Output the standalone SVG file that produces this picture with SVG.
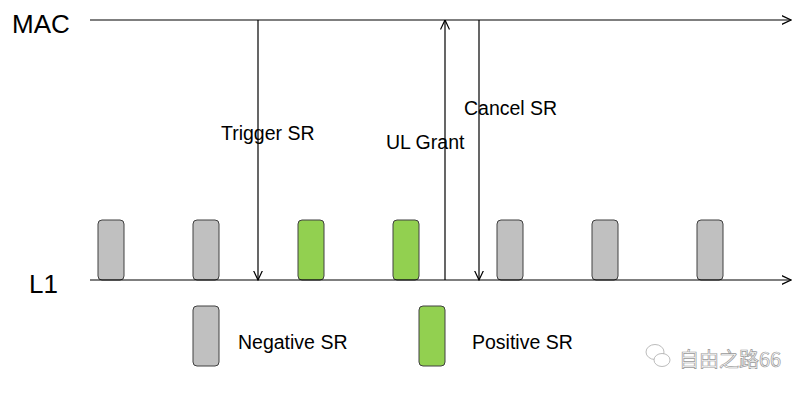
<svg xmlns="http://www.w3.org/2000/svg" width="804" height="394" viewBox="0 0 804 394">
<style>
text{font-family:"Liberation Sans",Arial,sans-serif;fill:#000}
.lbl{font-size:19.5px}
.big{font-size:26px}
.ln{stroke:#000;stroke-width:1.2;fill:none}
.neg{fill:#C0C0C0;stroke:#404040;stroke-width:1}
.pos{fill:#92D050;stroke:#404040;stroke-width:1}
.wm{font-family:"Noto Sans CJK SC","Liberation Sans",sans-serif;font-size:20px;fill:#fff;stroke:#999;stroke-width:0.7}
</style>
<defs>
<marker id="ah" viewBox="0 0 10 10" refX="9.5" refY="5" markerWidth="10" markerHeight="10" markerUnits="userSpaceOnUse" orient="auto">
<path d="M0,0.5 L9.5,5 L0,9.5" fill="none" stroke="#000" stroke-width="1.2"/>
</marker>
</defs>
<rect width="804" height="394" fill="#fff"/>
<g id="mac"><text class="big" x="12" y="33">MAC</text></g>
<g id="l1"><text class="big" x="29" y="293">L1</text></g>
<g id="sr1"><rect class="neg" x="98" y="220" width="26" height="60" rx="4"/></g>
<g id="sr2"><rect class="neg" x="193" y="220" width="26" height="60" rx="4"/></g>
<g id="sr3"><rect class="pos" x="298" y="220" width="26" height="60" rx="4"/></g>
<g id="sr4"><rect class="pos" x="393" y="220" width="26" height="60" rx="4"/></g>
<g id="sr5"><rect class="neg" x="497" y="220" width="26" height="60" rx="4"/></g>
<g id="sr6"><rect class="neg" x="592" y="220" width="26" height="60" rx="4"/></g>
<g id="sr7"><rect class="neg" x="697" y="220" width="26" height="60" rx="4"/></g>
<g id="connectors">
<line class="ln" x1="90" y1="20" x2="791" y2="20" marker-end="url(#ah)"/>
<line class="ln" x1="90" y1="280" x2="791" y2="280" marker-end="url(#ah)"/>
<line class="ln" x1="258" y1="20" x2="258" y2="280" marker-end="url(#ah)"/>
<line class="ln" x1="445" y1="280" x2="445" y2="20" marker-end="url(#ah)"/>
<line class="ln" x1="479" y1="20" x2="479" y2="280" marker-end="url(#ah)"/>
</g>
<g id="labels">
<text class="lbl" x="221" y="140">Trigger SR</text>
<text class="lbl" x="386" y="149">UL Grant</text>
<text class="lbl" x="464" y="115">Cancel SR</text>
</g>
<g id="legend-neg"><rect class="neg" x="193" y="306" width="26" height="60" rx="4"/><text class="lbl" x="238" y="349">Negative SR</text></g>
<g id="legend-pos"><rect class="pos" x="419" y="306" width="26" height="60" rx="4"/><text class="lbl" x="472" y="349">Positive SR</text></g>
<g id="watermark">
<ellipse cx="655" cy="352" rx="9" ry="7.5" fill="#fff" stroke="#aaa" stroke-width="0.8"/>
<ellipse cx="662" cy="360" rx="8" ry="6.5" fill="#fff" stroke="#aaa" stroke-width="0.8"/>
<text class="wm" x="679" y="367">自由之路66</text>
</g>
</svg>
